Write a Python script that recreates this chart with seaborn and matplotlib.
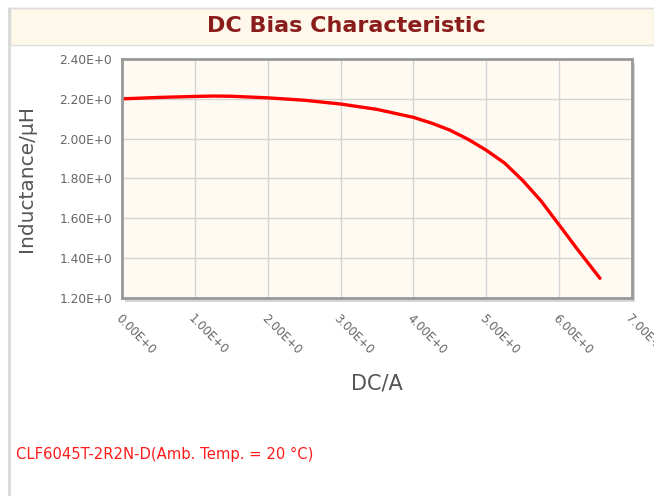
import matplotlib
matplotlib.use("Agg")
import matplotlib.pyplot as plt
import matplotlib.patches as mpatches
import seaborn as sns
import pandas as pd

current_a = [0.0, 0.5, 1.0, 1.25, 1.5, 2.0, 2.5, 3.0, 3.5, 4.0, 4.25, 4.5, 4.75, 5.0,
             5.25, 5.5, 5.75, 6.0, 6.25, 6.56]
inductance_uh = [2.200, 2.207, 2.212, 2.214, 2.213, 2.205, 2.193, 2.174, 2.147, 2.107,
                 2.078, 2.043, 1.997, 1.942, 1.878, 1.790, 1.688, 1.567, 1.445, 1.299]
x_ticks = [0, 1, 2, 3, 4, 5, 6, 7]
y_ticks = [1.2, 1.4, 1.6, 1.8, 2.0, 2.2, 2.4]
title = "DC Bias Characteristic"
x_label = "DC/A"
y_label = "Inductance/μH"
note = "CLF6045T-2R2N-D(Amb. Temp. = 20 °C)"

sns.set_style("white")
plt.rcParams['font.family'] = ['DejaVu Sans']

df = pd.DataFrame({"DC": current_a, "L": inductance_uh})

fig = plt.figure(figsize=(6.54, 4.96), dpi=100)
W, H = 654, 496

# title band
band = mpatches.Rectangle((10 / W, 1 - 45 / H), 1 - 10 / W, 37 / H, transform=fig.transFigure,
                          facecolor="#fdf8ea", edgecolor="#dddddd", linewidth=1, zorder=-2)
fig.add_artist(band)
# left panel border
fig.add_artist(plt.Line2D([9 / W, 9 / W], [0, 1 - 8 / H], transform=fig.transFigure,
                          color="#d8d8d8", linewidth=2))
fig.add_artist(plt.Line2D([10 / W, 1], [1 - 8 / H, 1 - 8 / H], transform=fig.transFigure,
                          color="#dddddd", linewidth=1))
fig.text(346 / W, 1 - 26 / H, title, ha="center", va="center", fontsize=16,
         fontweight="bold", color="#8b1c1c")

# frame shadow
shadow = mpatches.Rectangle((125 / W, 1 - 302 / H), (632 - 122) / W, (298 - 59) / H,
                            transform=fig.transFigure, facecolor="#d6d6d6",
                            edgecolor="none", zorder=-1)
fig.add_artist(shadow)

ax = fig.add_axes([122 / W, 1 - 298 / H, (632 - 122) / W, (298 - 59) / H])
ax.set_zorder(1)
ax.set_facecolor("#fffbf2")
sns.lineplot(data=df, x="DC", y="L", ax=ax, color="#ff0000", linewidth=2.4)

ax.set_xlim(0, 7)
ax.set_ylim(1.2, 2.4)
ax.set_xticks(x_ticks)
ax.set_yticks(y_ticks)
ax.set_xticklabels([f"{v:.2f}E+0" for v in x_ticks], rotation=-45, ha="left",
                   va="top", rotation_mode="anchor", fontsize=8.5, color="#666666")
ax.set_yticklabels([f"{v:.2f}E+0" for v in y_ticks], fontsize=8.8, color="#666666")
ax.grid(True, color="#d4d4d4", linewidth=1)
ax.set_axisbelow(True)
for s in ax.spines.values():
    s.set_color("#999999")
    s.set_linewidth(2)
ax.tick_params(axis="both", length=4, width=1, color="#999999", direction="out", pad=3)
ax.tick_params(axis="x", pad=6)
ax.set_xlabel(x_label, fontsize=15, color="#555555", labelpad=12)
ax.set_ylabel(y_label, fontsize=14.5, color="#555555", labelpad=17)

fig.text(16 / W, 1 - 454 / H, note, ha="left", va="center", fontsize=10.6, color="#ff1a1a")

fig.savefig("out.png", dpi=100)
